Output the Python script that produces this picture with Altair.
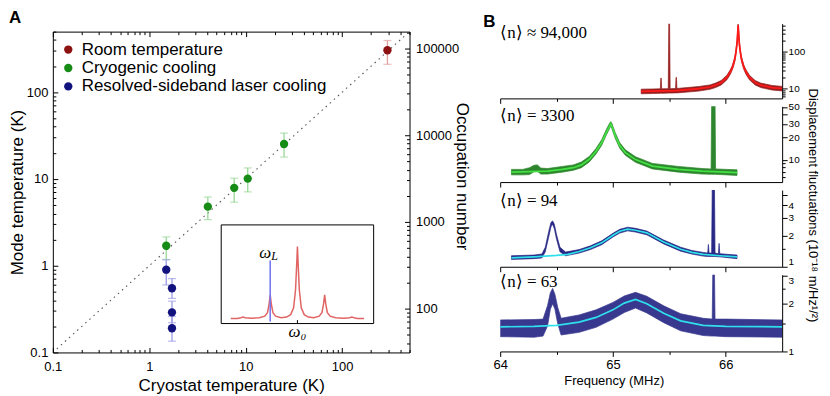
import json
import altair as alt
import pandas as pd

FONT = "Liberation Sans"
SERIF = "Liberation Serif"

# ---------------- Panel A data ----------------
group_names = ["Room temperature", "Cryogenic cooling", "Resolved-sideband laser cooling"]
group_colors = ["#8c1212", "#168c16", "#12127e"]
errbar_colors = ["#e2a0a0", "#98d898", "#9c9ce6"]

room_T = [295.0]
room_mode = [305.0]
room_lo = [210.0]
room_hi = [395.0]

cryo_T = [1.5, 4.05, 7.6, 10.5, 25.0]
cryo_mode = [1.7, 4.8, 7.9, 10.1, 25.3]
cryo_lo = [1.18, 3.4, 5.4, 7.1, 17.9]
cryo_hi = [2.15, 6.2, 10.2, 13.4, 33.8]

rsb_T = [1.5, 1.72, 1.72, 1.72]
rsb_mode = [0.9, 0.55, 0.29, 0.19]
rsb_lo = [0.6, 0.42, 0.22, 0.135]
rsb_hi = [1.17, 0.71, 0.39, 0.26]

diag_T = [0.11, 500.0]

a_ticks = [0.1, 0.2, 0.3, 0.4, 0.5, 0.6, 0.7, 0.8, 0.9, 1, 2, 3, 4, 5, 6, 7, 8, 9,
           10, 20, 30, 40, 50, 60, 70, 80, 90, 100, 200, 300, 400, 500]
a_labels = [0.1, 1, 10, 100]
occupation_per_kelvin = 312.0
occ_ticks = [40, 50, 60, 70, 80, 90, 100, 200, 300, 400, 500, 600, 700, 800, 900,
             1000, 2000, 3000, 4000, 5000, 6000, 7000, 8000, 9000, 10000, 20000, 30000,
             40000, 50000, 60000, 70000, 80000, 90000, 100000, 150000]
occ_labels = [100, 1000, 10000, 100000]

# inset (schematic spectrum, in units of the sideband spacing)
inset_x = [-2.45, -2.2, -2.08, -2.0, -1.92, -1.7, -1.4, -1.2, -1.1, -1.04, -1.0, -0.96, -0.9,
           -0.8, -0.6, -0.4, -0.25, -0.14, -0.07, -0.03, 0.0, 0.03, 0.07, 0.14, 0.25, 0.4,
           0.6, 0.8, 0.9, 0.96, 1.0, 1.04, 1.1, 1.2, 1.4, 1.7, 1.92, 2.0, 2.08, 2.2, 2.45]
inset_y = [0.05, 0.052, 0.058, 0.066, 0.058, 0.054, 0.058, 0.075, 0.11, 0.2, 0.29, 0.2, 0.11,
           0.075, 0.06, 0.066, 0.09, 0.16, 0.34, 0.58, 0.78, 0.58, 0.34, 0.16, 0.09, 0.066,
           0.06, 0.075, 0.11, 0.2, 0.29, 0.2, 0.11, 0.075, 0.058, 0.054, 0.058, 0.066, 0.058,
           0.052, 0.05]
inset_frame = {"x": [-2.8], "x2": [2.8], "y": [0.0], "y2": [1.0]}
laser_pos = [-1.0]
laser_span = [0.02, 0.64]

# ---------------- Panel B data ----------------
b1_f = [65.25, 65.35, 65.42, 65.424, 65.428, 65.432, 65.49, 65.495, 65.502, 65.507, 65.555,
        65.559, 65.563, 65.567, 65.66, 65.76, 65.86, 65.91, 65.96, 66.01, 66.04, 66.06, 66.08,
        66.09, 66.1, 66.105, 66.11, 66.115, 66.12, 66.13, 66.14, 66.16, 66.18, 66.21, 66.26,
        66.31, 66.41, 66.5]
b1_lo = [7.2, 7.3, 7.4, 7.4, 7.4, 7.4, 7.5, 7.5, 7.5, 7.5, 7.6, 7.6, 7.6, 7.6, 8.0, 8.5, 9.5,
         10.6, 12.5, 17.2, 24, 33, 53, 82, 146, 258, 460, 258, 146, 82, 53, 33, 24, 17.2, 12.5,
         10.6, 9.1, 8.6]
b1_hi = [9.6, 9.7, 9.8, 19, 19, 9.8, 9.9, 650, 650, 9.9, 10.0, 20, 20, 10.0, 10.6, 11.3, 12.5,
         14.0, 16.5, 22.8, 32, 43, 71, 108, 194, 342, 560, 342, 194, 108, 71, 43, 32, 22.8, 16.5,
         14.0, 12.1, 11.4]
fit1_f = [65.25, 65.42, 65.56, 65.66, 65.76, 65.86, 65.91, 65.96, 66.01, 66.04, 66.06, 66.08,
          66.09, 66.1, 66.105, 66.11, 66.115, 66.12, 66.13, 66.14, 66.16, 66.18, 66.21, 66.26,
          66.31, 66.41, 66.5]
fit1_v = [8.4, 8.6, 8.8, 9.3, 9.9, 11.0, 12.3, 14.5, 20, 28, 38, 62, 95, 170, 300, 520, 300,
          170, 95, 62, 38, 28, 20, 14.5, 12.3, 10.6, 10.0]

b2_f = [64.1, 64.2, 64.26, 64.3, 64.33, 64.36, 64.42, 64.55, 64.65, 64.72, 64.79, 64.85, 64.9,
        64.94, 64.97, 64.98, 64.99, 65.02, 65.06, 65.11, 65.2, 65.35, 65.58, 65.79, 65.87,
        65.875, 65.905, 65.91, 66.1]
b2_lo = [6.35, 6.35, 6.4, 7.0, 7.1, 6.5, 6.5, 6.9, 7.3, 7.9, 9.4, 12, 15.6, 21.2, 26, 28, 26,
         19.3, 14.3, 11.5, 9.3, 7.6, 6.9, 6.5, 6.45, 6.45, 6.45, 6.45, 6.25]
b2_hi = [7.5, 7.5, 7.9, 8.5, 8.6, 7.8, 7.7, 8.2, 8.6, 9.4, 11.1, 14.2, 18.5, 25, 30.5, 32, 30.5,
         22.9, 16.9, 13.6, 11.0, 9.0, 8.2, 7.7, 7.6, 60, 60, 7.6, 7.4]
fit2_f = [64.1, 64.42, 64.55, 64.65, 64.72, 64.79, 64.85, 64.9, 64.94, 64.97, 64.98, 64.99,
          65.02, 65.06, 65.11, 65.2, 65.35, 65.58, 65.79, 66.1]
fit2_v = [6.9, 7.1, 7.5, 7.9, 8.6, 10.2, 13, 17, 23, 28, 30, 28, 21, 15.5, 12.5, 10.1, 8.3,
          7.5, 7.1, 6.8]

b3_f = [64.1, 64.3, 64.37, 64.4, 64.43, 64.45, 64.465, 64.48, 64.5, 64.53, 64.58, 64.7, 64.8,
        64.9, 65.0, 65.06, 65.13, 65.2, 65.3, 65.45, 65.6, 65.7, 65.8, 65.84, 65.846, 65.852,
        65.875, 65.88, 65.9, 65.905, 65.935, 65.941, 65.947, 66.1]
b3_lo = [1.18, 1.2, 1.22, 1.4, 1.95, 2.45, 2.6, 2.35, 1.85, 1.4, 1.28, 1.36, 1.47, 1.64, 1.95,
         2.13, 2.24, 2.18, 2.05, 1.67, 1.42, 1.33, 1.27, 1.26, 1.26, 1.26, 1.26, 1.26, 1.26,
         1.26, 1.25, 1.25, 1.25, 1.2]
b3_hi = [1.28, 1.3, 1.33, 1.55, 2.2, 2.7, 2.8, 2.6, 2.05, 1.55, 1.39, 1.47, 1.6, 1.79, 2.12,
         2.32, 2.43, 2.37, 2.23, 1.82, 1.55, 1.44, 1.38, 1.36, 1.65, 1.36, 1.36, 6.0, 6.0,
         1.36, 1.34, 1.69, 1.34, 1.3]
fit3_f = [64.1, 64.3, 64.5, 64.6, 64.7, 64.8, 64.9, 65.0, 65.06, 65.13, 65.2, 65.3, 65.45,
          65.6, 65.7, 65.8, 65.95, 66.1]
fit3_v = [1.22, 1.25, 1.29, 1.32, 1.41, 1.53, 1.71, 2.03, 2.22, 2.33, 2.27, 2.14, 1.74, 1.48,
          1.38, 1.32, 1.28, 1.25]

b4_f = [64.0, 64.3, 64.38, 64.42, 64.445, 64.465, 64.485, 64.51, 64.54, 64.7, 64.85, 65.0,
        65.1, 65.2, 65.3, 65.45, 65.6, 65.8, 65.88, 65.885, 65.9, 65.905, 66.0, 66.5]
b4_lo = [1.24, 1.23, 1.25, 1.45, 1.85, 2.0, 1.85, 1.5, 1.27, 1.32, 1.42, 1.6, 1.76, 1.88, 1.75,
         1.52, 1.35, 1.26, 1.25, 1.25, 1.25, 1.25, 1.24, 1.23]
b4_hi = [1.58, 1.59, 1.6, 1.95, 2.35, 2.5, 2.3, 1.9, 1.62, 1.7, 1.83, 2.04, 2.24, 2.36, 2.23,
         1.94, 1.73, 1.62, 1.6, 3.2, 3.2, 1.6, 1.6, 1.58]
fit4_f = [64.0, 64.3, 64.5, 64.7, 64.85, 65.0, 65.1, 65.2, 65.3, 65.45, 65.6, 65.8, 66.0, 66.5]
fit4_v = [1.43, 1.44, 1.46, 1.53, 1.64, 1.83, 2.02, 2.13, 2.0, 1.74, 1.56, 1.46, 1.44, 1.43]

occupations = ["\u27e8n\u27e9 \u2248 94,000", "\u27e8n\u27e9 = 3300", "\u27e8n\u27e9 = 94", "\u27e8n\u27e9 = 63"]
occupation_label_v = [320, 38, 4.4, 2.75]

b_x_ticks = [64, 64.5, 65, 65.5, 66]
b_x_labels = [64, 65, 66]
b1_ticks = [6, 7, 8, 9, 10, 20, 30, 40, 50, 60, 70, 80, 90, 100, 200, 300, 400, 500]
b1_labels = [10, 100]
b2_ticks = [6, 7, 8, 9, 10, 20, 30, 40, 50]
b2_labels = [10, 20, 30, 40, 50]
b3_ticks = [1, 1.5, 2, 3, 4, 5]
b3_labels = [1, 2, 3, 4, 5]
b4_ticks = [1, 1.5, 2, 2.5, 3]
b4_labels = [1, 2, 3]


def in_list(lst, expr="datum.value"):
    return f"indexof({json.dumps(lst)}, {expr}) >= 0"


def tick_size(lst, major, minor, expr="datum.value"):
    return {"condition": {"test": in_list(lst, expr), "value": major}, "value": minor}


# ---------------- Panel A chart ----------------
rows = []
for name, T, m, lo, hi in [(group_names[0], room_T, room_mode, room_lo, room_hi),
                           (group_names[1], cryo_T, cryo_mode, cryo_lo, cryo_hi),
                           (group_names[2], rsb_T, rsb_mode, rsb_lo, rsb_hi)]:
    for i in range(len(T)):
        rows.append({"group": name, "T": T[i], "M": m[i], "lo": lo[i], "hi": hi[i]})
pts = pd.DataFrame(rows)

W_A, H_A, TOP_A = 358, 330, 8
xA = alt.Scale(type="log", domain=[0.1, 500], nice=False)
yA = alt.Scale(type="log", domain=[0.1, 500], nice=False, range=[H_A, TOP_A])
colA = alt.Scale(domain=group_names, range=group_colors)
diag_df = pd.DataFrame({"T": diag_T})

label_a = f"{in_list(a_labels)} ? format(datum.value, '~g') : ''"
x_axis_A = alt.Axis(orient="bottom", values=a_labels, labelExpr=label_a, ticks=False, tickSize=0,
                    domain=False, labelFontSize=13, titleFontSize=17, labelPadding=8,
                    titlePadding=4, labelFlush=False)
y_axis_A = alt.Axis(orient="left", values=a_labels, labelExpr=label_a, ticks=False, tickSize=0,
                    domain=False, labelFontSize=13, titleFontSize=17, labelPadding=5,
                    titlePadding=0, labelFlush=False)
occ_expr = f"round(datum.value * {occupation_per_kelvin})"
occ_axis = alt.Axis(orient="right", values=[n / occupation_per_kelvin for n in occ_labels],
                    labelExpr=f"format({occ_expr}, 'd')", ticks=False, tickSize=0, domain=False,
                    labelFontSize=13, titleFontSize=17, labelPadding=6, titlePadding=-6,
                    titleY=153, labelFlush=False)

diag = alt.Chart(diag_df).mark_line(
    color="#555555", strokeDash=[1.5, 4], strokeWidth=1.1).encode(
    x=alt.X("T:Q", scale=xA, axis=x_axis_A, title="Cryostat temperature (K)"),
    y=alt.Y("T:Q", scale=yA, axis=y_axis_A, title="Mode temperature (K)"))
occ = alt.Chart(diag_df).mark_line(opacity=0).encode(
    x=alt.X("T:Q", scale=xA, axis=None),
    y=alt.Y("T:Q", scale=yA, axis=occ_axis, title="Occupation number"))


def frame_ticks(channel, orient, offset, values, labels, expr="datum.value"):
    ax = alt.Axis(orient=orient, offset=offset, values=values, labels=False, title=None,
                  tickSize=tick_size(labels, 5, 3, expr), domain=True, ticks=True)
    if channel == "x":
        enc = dict(x=alt.X("T:Q", scale=xA, axis=ax), y=alt.Y("T:Q", scale=yA, axis=None))
    else:
        enc = dict(x=alt.X("T:Q", scale=xA, axis=None), y=alt.Y("T:Q", scale=yA, axis=ax))
    return alt.Chart(diag_df).mark_line(opacity=0).encode(**enc)


occ_tick_T = [n / occupation_per_kelvin for n in occ_ticks]
tk_top = frame_ticks("x", "bottom", -(H_A - TOP_A), a_ticks, a_labels)
tk_bottom = frame_ticks("x", "top", -H_A, a_ticks, a_labels)
tk_left = frame_ticks("y", "right", -W_A, a_ticks, a_labels)
tk_right = frame_ticks("y", "left", -W_A, occ_tick_T, occ_labels, occ_expr)

err_layers = []
for name, ecol in zip(group_names, errbar_colors):
    sub = alt.Chart(pts).transform_filter(alt.datum.group == name)
    err_layers.append(sub.mark_rule(color=ecol, strokeWidth=1.3).encode(
        x=alt.X("T:Q", scale=xA, axis=None), y=alt.Y("lo:Q", scale=yA, axis=None), y2="hi:Q"))
    for fld in ["lo", "hi"]:
        err_layers.append(sub.mark_tick(color=ecol, orient="horizontal", size=8, thickness=1.2).encode(
            x=alt.X("T:Q", scale=xA, axis=None), y=alt.Y(f"{fld}:Q", scale=yA, axis=None)))

dots = alt.Chart(pts).mark_circle(size=70, opacity=1).encode(
    x=alt.X("T:Q", scale=xA, axis=None), y=alt.Y("M:Q", scale=yA, axis=None),
    color=alt.Color("group:N", scale=colA, sort=group_names,
                    legend=alt.Legend(title=None, orient="none", legendX=7, legendY=17.5,
                                      symbolType="circle", symbolSize=70,
                                      labelFontSize=17, labelFont=FONT, rowPadding=0.5,
                                      labelOffset=5, labelLimit=400, padding=0)))

ix = alt.Scale(domain=[-2.8, 2.8], range=[169, 322], nice=False, zero=False)
iy = alt.Scale(domain=[0, 1], range=[301, 202], nice=False, zero=False)


def inset_enc(**kw):
    enc = dict(x=alt.X("x:Q", scale=ix, axis=None), y=alt.Y("y:Q", scale=iy, axis=None))
    enc.update(kw)
    return enc


frame = alt.Chart(pd.DataFrame(inset_frame)).mark_rect(
    fill="white", stroke="black", strokeWidth=1).encode(**inset_enc(x2="x2:Q", y2="y2:Q"))
curve = alt.Chart(pd.DataFrame({"x": inset_x, "y": inset_y})).mark_line(
    color="#e06464", strokeWidth=1.5).encode(**inset_enc())
laser = alt.Chart(pd.DataFrame({"x": laser_pos, "y": [laser_span[0]], "y2": [laser_span[1]]})).mark_rule(
    color="#7878f0", strokeWidth=1.6).encode(**inset_enc(y2="y2:Q"))
w0tick = alt.Chart(pd.DataFrame({"x": [0.0], "y": [0.0], "y2": [0.035]})).mark_rule(
    color="black", strokeWidth=1).encode(**inset_enc(y2="y2:Q"))
wL = alt.Chart(pd.DataFrame({"x": laser_pos, "y": [0.71], "t": ["\u03c9"]})).mark_text(
    font=SERIF, fontSize=17, fontStyle="italic", align="right", baseline="middle", dx=1).encode(
    **inset_enc(text="t:N"))
wLsub = alt.Chart(pd.DataFrame({"x": laser_pos, "y": [0.71], "t": ["L"]})).mark_text(
    font=SERIF, fontSize=12, fontStyle="italic", align="left", baseline="middle", dx=1, dy=3).encode(
    **inset_enc(text="t:N"))
w0 = alt.Chart(pd.DataFrame({"x": [0.0], "y": [-0.09], "t": ["\u03c9\u2080"]})).mark_text(
    font=SERIF, fontSize=17, fontStyle="italic", align="center", baseline="middle").encode(
    **inset_enc(text="t:N"))

panelA = alt.layer(diag, occ, tk_top, tk_bottom, tk_left, tk_right, *err_layers, dots,
                   frame, curve, laser, w0tick, wL, wLsub, w0).resolve_scale(
    x="independent", y="independent").properties(
    width=W_A, height=H_A,
    title=alt.Title("A", anchor="start", frame="group", dx=-44, fontSize=17, fontWeight="bold",
                    font=FONT, offset=-3))


# ---------------- Panel B chart ----------------
def spectrum(bf, blo, bhi, ff, fv, dark, bright, ydom, yticks, ylabels, label, label_v, h,
             last=False, ytitle=None, band_opacity=0.92, edge_label=None):
    band = pd.DataFrame({"f": bf, "lo": blo, "hi": bhi})
    fit = pd.DataFrame({"f": ff, "v": fv})
    xs = alt.Scale(domain=[64, 66.5], nice=False, zero=False)
    ys = alt.Scale(type="log", domain=ydom, nice=False)
    yaxis_kw = dict(orient="right", values=yticks,
                    labelExpr=f"{in_list(ylabels)} ? format(datum.value, '~g') : ''",
                    tickSize=tick_size(ylabels, 5, 3), labelFontSize=10, labelPadding=1,
                    labelFlush=False, titleFontSize=13)
    if edge_label is not None:
        yaxis_kw["labelBaseline"] = {"condition": {"test": f"datum.value == {edge_label[0]}",
                                                   "value": edge_label[1]},
                                     "value": "middle"}
    if ytitle:
        yaxis_kw.update(titleX=30, titleY=15, titleAngle=90, titleAlign="center",
                        titleBaseline="middle")
    xaxis = alt.Axis(values=b_x_ticks, labels=last,
                     labelExpr=f"{in_list(b_x_labels)} ? format(datum.value, 'd') : ''",
                     tickSize=tick_size(b_x_labels, 5, 3), labelFontSize=13, titleFontSize=13,
                     labelPadding=2, titleX=114, titlePadding=3, labelFlush=False)
    area = alt.Chart(band).mark_area(color=dark, stroke=dark, strokeWidth=0.7, clip=True,
                                     opacity=band_opacity).encode(
        x=alt.X("f:Q", scale=xs, axis=xaxis, title="Frequency (MHz)" if last else None),
        y=alt.Y("lo:Q", scale=ys, axis=alt.Axis(**yaxis_kw), title=ytitle),
        y2="hi:Q")
    line = alt.Chart(fit).mark_line(color=bright, strokeWidth=1.7, clip=True).encode(
        x="f:Q", y="v:Q")
    txt = alt.Chart(pd.DataFrame({"f": [64.0], "v": [label_v], "t": [label]})).mark_text(
        font=SERIF, fontSize=17, align="left", baseline="middle", dx=0).encode(
        x="f:Q", y="v:Q", text="t:N")
    return alt.layer(area, line, txt).properties(width=283, height=h)


red_dark, red_bright = "#8e0c0c", "#ff1a1a"
grn_dark, grn_bright = "#1c7c1c", "#44e044"
blu_dark, blu_bright = "#16167c", "#2fe0ea"

p1 = spectrum(b1_f, b1_lo, b1_hi, fit1_f, fit1_v, red_dark, red_bright, [5.4, 570],
              b1_ticks, b1_labels, occupations[0], occupation_label_v[0], 75)
p2 = spectrum(b2_f, b2_lo, b2_hi, fit2_f, fit2_v, grn_dark, grn_bright, [5.1, 51],
              b2_ticks, b2_labels, occupations[1], occupation_label_v[1], 76)
p3 = spectrum(b3_f, b3_lo, b3_hi, fit3_f, fit3_v, blu_dark, blu_bright, [1, 5.6],
              b3_ticks, b3_labels, occupations[2], occupation_label_v[2], 77,
              ytitle="Displacement fluctuations (10\u207b\u00b9\u2078 m/Hz\u00b9/\u00b2)",
              edge_label=(1, "bottom"))
p4 = spectrum(b4_f, b4_lo, b4_hi, fit4_f, fit4_v, blu_dark, blu_bright, [1, 3.05],
              b4_ticks, b4_labels, occupations[3], occupation_label_v[3], 77, last=True,
              band_opacity=0.85, edge_label=(3, "top"))

panelB = alt.vconcat(p1, p2, p3, p4, spacing=8, bounds="flush",
                     title=alt.Title("B", anchor="start", frame="group", dx=-17, fontSize=17,
                                     fontWeight="bold", font=FONT, offset=-7))

chart = alt.hconcat(panelA, panelB, spacing=12,
                    padding={"left": 0, "top": 0, "right": 4, "bottom": 0}).configure(
    font=FONT).configure_view(stroke=None).configure_axis(
    domainColor="black", tickColor="black", labelColor="black", titleColor="black",
    labelFont=FONT, titleFont=FONT, titleFontWeight="normal", grid=False, domainWidth=1,
    tickWidth=1)

chart.save("out.html", embed_options={"renderer": "svg", "actions": False})
